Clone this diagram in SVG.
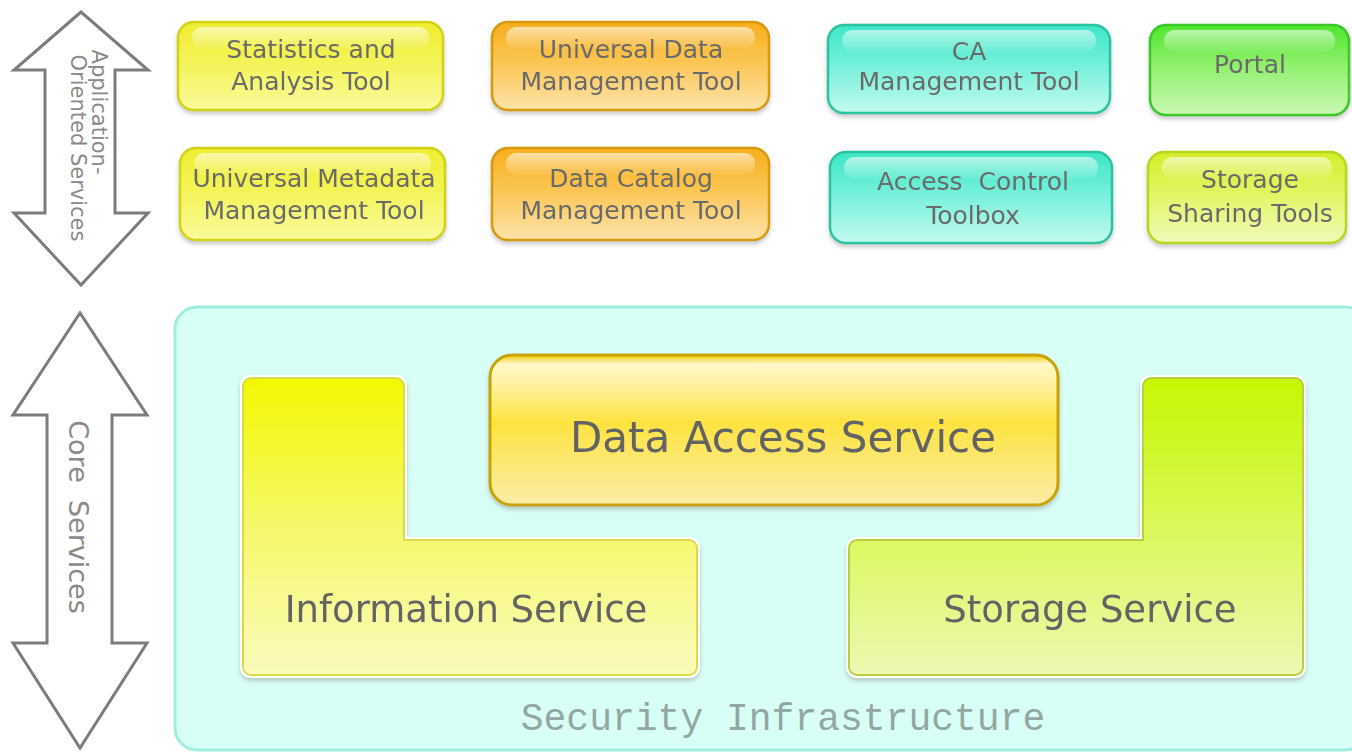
<svg xmlns="http://www.w3.org/2000/svg" width="1352" height="752" viewBox="0 0 1352 752">
<style>
.t{font-family:"DejaVu Sans","Liberation Sans",sans-serif;fill:#6a6a6a;text-anchor:middle}
.s{font-size:25px}
.b{font-size:42px;fill:#646464}
.m{font-size:37px;fill:#646464}
.v{font-family:"DejaVu Sans","Liberation Sans",sans-serif;fill:#8a8a8a;text-anchor:middle}
.arr{fill:#ffffff;stroke:#7c7c7c;stroke-width:3;stroke-linejoin:miter}
.btn{stroke-width:2.5}
.hl{fill:url(#gHL)}
</style>
<defs>
<filter id="sh" x="-10%" y="-10%" width="120%" height="140%">
<feDropShadow dx="0" dy="3" stdDeviation="2" flood-color="#7a7a7a" flood-opacity="0.4"/>
</filter>
<linearGradient id="gHL" x1="0" y1="0" x2="0" y2="1">
<stop offset="0" stop-color="#ffffff" stop-opacity="0.6"/>
<stop offset="1" stop-color="#ffffff" stop-opacity="0.05"/>
</linearGradient>
<linearGradient id="gY" x1="0" y1="0" x2="0" y2="1">
<stop offset="0" stop-color="#eeee30"/><stop offset="0.5" stop-color="#f4f45c"/><stop offset="1" stop-color="#fafa9c"/>
</linearGradient>
<linearGradient id="gO" x1="0" y1="0" x2="0" y2="1">
<stop offset="0" stop-color="#f7ae1c"/><stop offset="0.45" stop-color="#fbc552"/><stop offset="1" stop-color="#fde3aa"/>
</linearGradient>
<linearGradient id="gC" x1="0" y1="0" x2="0" y2="1">
<stop offset="0" stop-color="#3ee6c6"/><stop offset="0.45" stop-color="#74f0da"/><stop offset="1" stop-color="#c2faf0"/>
</linearGradient>
<linearGradient id="gG" x1="0" y1="0" x2="0" y2="1">
<stop offset="0" stop-color="#4ee62c"/><stop offset="0.45" stop-color="#90f06e"/><stop offset="1" stop-color="#cbf8b4"/>
</linearGradient>
<linearGradient id="gYG" x1="0" y1="0" x2="0" y2="1">
<stop offset="0" stop-color="#d4ee28"/><stop offset="0.45" stop-color="#e2f562"/><stop offset="1" stop-color="#f0fab8"/>
</linearGradient>
<linearGradient id="gDA" x1="0" y1="0" x2="0" y2="1">
<stop offset="0" stop-color="#f0c800"/><stop offset="0.06" stop-color="#fff8c8"/><stop offset="0.2" stop-color="#fff2a0"/><stop offset="0.45" stop-color="#fde340"/><stop offset="1" stop-color="#fbeda8"/>
</linearGradient>
<linearGradient id="gIS" x1="0" y1="0" x2="0" y2="1">
<stop offset="0" stop-color="#f2f800"/><stop offset="0.5" stop-color="#f5f86a"/><stop offset="1" stop-color="#fafabc"/>
</linearGradient>
<linearGradient id="gSS" x1="0" y1="0" x2="0" y2="1">
<stop offset="0" stop-color="#c4f800"/><stop offset="0.45" stop-color="#d8f850"/><stop offset="1" stop-color="#edf8b2"/>
</linearGradient>
</defs>

<g id="arrows">
<g id="app-services-arrow">
<polygon class="arr" points="81,12 14,70 45,70 45,213 14,213 81,285 148,213 115,213 115,70 148,70"/>
<text class="v" font-size="21" transform="translate(92,112) rotate(90)">Application-</text>
<text class="v" font-size="21" transform="translate(71,148) rotate(90)">Oriented Services</text>
</g>
<g id="core-services-arrow">
<polygon class="arr" points="80,313 13,415 47,415 47,643 13,643 80,748 147,643 112,643 112,415 147,415"/>
<text class="v" font-size="27" transform="translate(69,517) rotate(90)" xml:space="preserve">Core  Services</text>
</g>
</g>

<g id="tool-statistics" filter="url(#sh)">
<rect class="btn" x="178" y="22" width="265" height="88" rx="16" fill="url(#gY)" stroke="#d2d214"/>
<rect class="hl" x="192" y="27" width="237" height="22" rx="10"/>
<text class="t s" x="311" y="58">Statistics and</text>
<text class="t s" x="311" y="90">Analysis Tool</text>
</g>
<g id="tool-universal-data" filter="url(#sh)">
<rect class="btn" x="492" y="22" width="277" height="88" rx="16" fill="url(#gO)" stroke="#d89a10"/>
<rect class="hl" x="506" y="27" width="249" height="22" rx="10"/>
<text class="t s" x="631" y="58">Universal Data</text>
<text class="t s" x="631" y="90">Management Tool</text>
</g>
<g id="tool-ca" filter="url(#sh)">
<rect class="btn" x="828" y="25" width="282" height="88" rx="16" fill="url(#gC)" stroke="#2cc4a2"/>
<rect class="hl" x="842" y="30" width="254" height="22" rx="10"/>
<text class="t s" x="969" y="60">CA</text>
<text class="t s" x="969" y="90">Management Tool</text>
</g>
<g id="tool-portal" filter="url(#sh)">
<rect class="btn" x="1150" y="25" width="199" height="90" rx="16" fill="url(#gG)" stroke="#3cc82a"/>
<rect class="hl" x="1164" y="30" width="171" height="22" rx="10"/>
<text class="t s" x="1250" y="73">Portal</text>
</g>
<g id="tool-universal-metadata" filter="url(#sh)">
<rect class="btn" x="180" y="148" width="265" height="92" rx="16" fill="url(#gY)" stroke="#d2d214"/>
<rect class="hl" x="194" y="153" width="237" height="22" rx="10"/>
<text class="t s" x="314" y="187">Universal Metadata</text>
<text class="t s" x="314" y="219">Management Tool</text>
</g>
<g id="tool-data-catalog" filter="url(#sh)">
<rect class="btn" x="492" y="148" width="277" height="92" rx="16" fill="url(#gO)" stroke="#d89a10"/>
<rect class="hl" x="506" y="153" width="249" height="22" rx="10"/>
<text class="t s" x="631" y="187">Data Catalog</text>
<text class="t s" x="631" y="219">Management Tool</text>
</g>
<g id="tool-access-control" filter="url(#sh)">
<rect class="btn" x="830" y="152" width="282" height="91" rx="16" fill="url(#gC)" stroke="#2cc4a2"/>
<rect class="hl" x="844" y="157" width="254" height="22" rx="10"/>
<text class="t s" x="973" y="190" xml:space="preserve">Access  Control</text>
<text class="t s" x="973" y="224">Toolbox</text>
</g>
<g id="tool-storage-sharing" filter="url(#sh)">
<rect class="btn" x="1148" y="152" width="198" height="91" rx="16" fill="url(#gYG)" stroke="#b6d81a"/>
<rect class="hl" x="1162" y="157" width="170" height="22" rx="10"/>
<text class="t s" x="1250" y="188">Storage</text>
<text class="t s" x="1250" y="222">Sharing Tools</text>
</g>

<g id="security-infrastructure">
<rect x="175" y="307" width="1192" height="443" rx="22" fill="#d8fff5" stroke="#9deedc" stroke-width="3"/>
<text x="783" y="730" font-family="'Liberation Mono','DejaVu Sans Mono',monospace" font-size="38" fill="#94a6a3" text-anchor="middle">Security Infrastructure</text>
</g>

<g id="data-access-service" filter="url(#sh)">
<rect x="490" y="355" width="568" height="150" rx="22" fill="url(#gDA)" stroke="#c8a400" stroke-width="3"/>
<text class="t b" x="783" y="452">Data Access Service</text>
</g>

<g id="information-service" filter="url(#sh)">
<path d="M251,378 H396 A8,8 0 0 1 404,386 V540 H689 A8,8 0 0 1 697,548 V667 A8,8 0 0 1 689,675 H251 A8,8 0 0 1 243,667 V386 A8,8 0 0 1 251,378 Z" fill="url(#gIS)" stroke="#ffffff" stroke-width="6"/>
<path d="M251,378 H396 A8,8 0 0 1 404,386 V540 H689 A8,8 0 0 1 697,548 V667 A8,8 0 0 1 689,675 H251 A8,8 0 0 1 243,667 V386 A8,8 0 0 1 251,378 Z" fill="url(#gIS)" stroke="#dada50" stroke-width="2"/>
<text class="t m" x="466" y="622">Information Service</text>
</g>

<g id="storage-service" filter="url(#sh)">
<path d="M1151,378 H1295 A8,8 0 0 1 1303,386 V667 A8,8 0 0 1 1295,675 H857 A8,8 0 0 1 849,667 V548 A8,8 0 0 1 857,540 H1143 V386 A8,8 0 0 1 1151,378 Z" fill="url(#gSS)" stroke="#ffffff" stroke-width="6"/>
<path d="M1151,378 H1295 A8,8 0 0 1 1303,386 V667 A8,8 0 0 1 1295,675 H857 A8,8 0 0 1 849,667 V548 A8,8 0 0 1 857,540 H1143 V386 A8,8 0 0 1 1151,378 Z" fill="url(#gSS)" stroke="#b8d040" stroke-width="2"/>
<text class="t m" x="1090" y="622">Storage Service</text>
</g>
</svg>
